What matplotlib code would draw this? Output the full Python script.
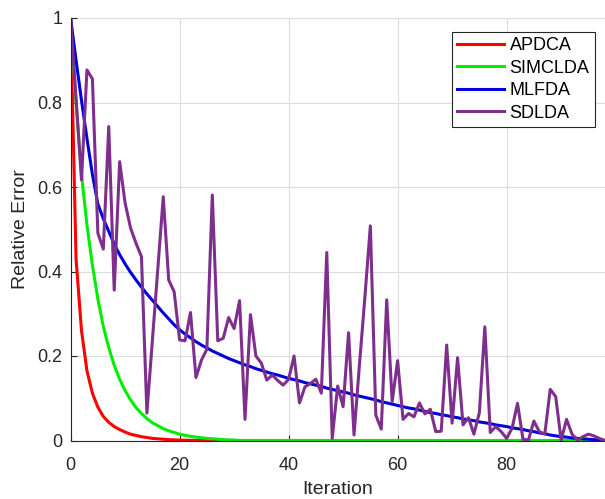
import matplotlib
matplotlib.use("Agg")
import matplotlib.pyplot as plt
import numpy as np

plt.rcParams['font.family'] = ['Liberation Sans', 'DejaVu Sans']

labels = ["APDCA", "SIMCLDA", "MLFDA", "SDLDA"]
colors = ["#ff0000", "#00ee00", "#0000dd", "#7e2f8e"]

apdca = [1.0, 0.43, 0.26, 0.165, 0.112, 0.079, 0.057, 0.043, 0.033, 0.026,
         0.020, 0.015, 0.012, 0.009, 0.007, 0.005, 0.004, 0.003, 0.002, 0.0015,
         0.001, 0.0007, 0.0005, 0.0003, 0.0002, 0.0001] + [0.0] * 73

simclda = [1.0, 0.80, 0.63, 0.51, 0.415, 0.335, 0.27, 0.22, 0.178, 0.145,
           0.118, 0.096, 0.078, 0.064, 0.052, 0.042, 0.035, 0.028, 0.023, 0.019,
           0.015, 0.012, 0.010, 0.008, 0.0065, 0.005, 0.004, 0.003, 0.002, 0.0015,
           0.001] + [0.0] * 68

mlfda = [1.000, 0.900, 0.805, 0.715, 0.630, 0.560, 0.525, 0.495, 0.465, 0.440,
         0.418, 0.398, 0.380, 0.363, 0.347, 0.332, 0.317, 0.302, 0.288, 0.274,
         0.262, 0.252, 0.243, 0.234, 0.226, 0.219, 0.212, 0.206, 0.200, 0.194,
         0.189, 0.184, 0.179, 0.175, 0.170, 0.166, 0.162, 0.158, 0.155, 0.151,
         0.147, 0.144, 0.141, 0.137, 0.134, 0.131, 0.128, 0.124, 0.121, 0.118,
         0.115, 0.112, 0.108, 0.105, 0.102, 0.099, 0.096, 0.092, 0.089, 0.086,
         0.083, 0.080, 0.077, 0.075, 0.072, 0.069, 0.066, 0.064, 0.061, 0.059,
         0.056, 0.054, 0.051, 0.049, 0.047, 0.044, 0.042, 0.040, 0.037, 0.035,
         0.033, 0.030, 0.028, 0.026, 0.023, 0.021, 0.018, 0.016, 0.013, 0.011,
         0.009, 0.008, 0.006, 0.005, 0.004, 0.003, 0.002, 0.001, 0.000]

sdlda = [1.0, 0.81, 0.617, 0.877, 0.856, 0.491, 0.453, 0.743, 0.356, 0.66,
         0.562, 0.503, 0.467, 0.435, 0.065, 0.236, 0.406, 0.577, 0.38, 0.352,
         0.238, 0.236, 0.303, 0.149, 0.19, 0.216, 0.581, 0.236, 0.242, 0.291,
         0.265, 0.331, 0.05, 0.298, 0.2, 0.183, 0.143, 0.155, 0.142, 0.131,
         0.145, 0.2, 0.089, 0.127, 0.135, 0.145, 0.112, 0.445, 0.005, 0.129,
         0.08, 0.255, 0.013, 0.18, 0.34, 0.508, 0.06, 0.027, 0.333, 0.092,
         0.189, 0.05, 0.064, 0.056, 0.089, 0.063, 0.074, 0.021, 0.022, 0.226,
         0.041, 0.196, 0.037, 0.054, 0.015, 0.066, 0.269, 0.019, 0.033, 0.021,
         0.005, 0.029, 0.088, 0.003, 0.001, 0.046, 0.021, 0.015, 0.121, 0.104,
         0.001, 0.05, 0.015, 0.001, 0.009, 0.015, 0.011, 0.005, 0.0]

series = [apdca, simclda, mlfda, sdlda]

fig = plt.figure(figsize=(6.05, 4.99), dpi=100)
ax = fig.add_axes([70.6 / 605, 58.5 / 499, 1 - 70.6 / 605, 422.5 / 499])

for vals, lab, col in zip(series, labels, colors):
    x = np.arange(len(vals))
    ax.plot(x, vals, color=col, lw=2.2, label=lab)

axc = "#262626"
ax.set_xlim(0, 98.05)
ax.set_ylim(0, 1)
ax.set_xticks([0, 20, 40, 60, 80])
ax.set_yticks([0, 0.2, 0.4, 0.6, 0.8, 1.0])
ax.set_yticklabels(["0", "0.2", "0.4", "0.6", "0.8", "1"])
ax.grid(True, color="#dcdcdc", lw=0.8)
ax.set_axisbelow(True)
for s in ["top", "right"]:
    ax.spines[s].set_visible(False)
for s in ["left", "bottom"]:
    ax.spines[s].set_color(axc)
    ax.spines[s].set_linewidth(0.8)
ax.tick_params(direction="in", length=4, width=0.8, colors=axc, labelsize=13)
ax.tick_params(axis="x", pad=12)
ax.tick_params(axis="y", pad=6)
ax.set_xlabel("Iteration", fontsize=14, color=axc, labelpad=5)
ax.set_ylabel("Relative Error", fontsize=14, color=axc, labelpad=6)

leg = ax.legend(loc="upper right", bbox_to_anchor=(0.981, 0.967), fontsize=13,
                frameon=True, fancybox=False, edgecolor=axc, framealpha=1,
                handlelength=2.6, handletextpad=0.3, borderpad=0.3,
                labelspacing=0.3, borderaxespad=0)
leg.get_frame().set_linewidth(0.8)

fig.savefig("out.png", dpi=100)
